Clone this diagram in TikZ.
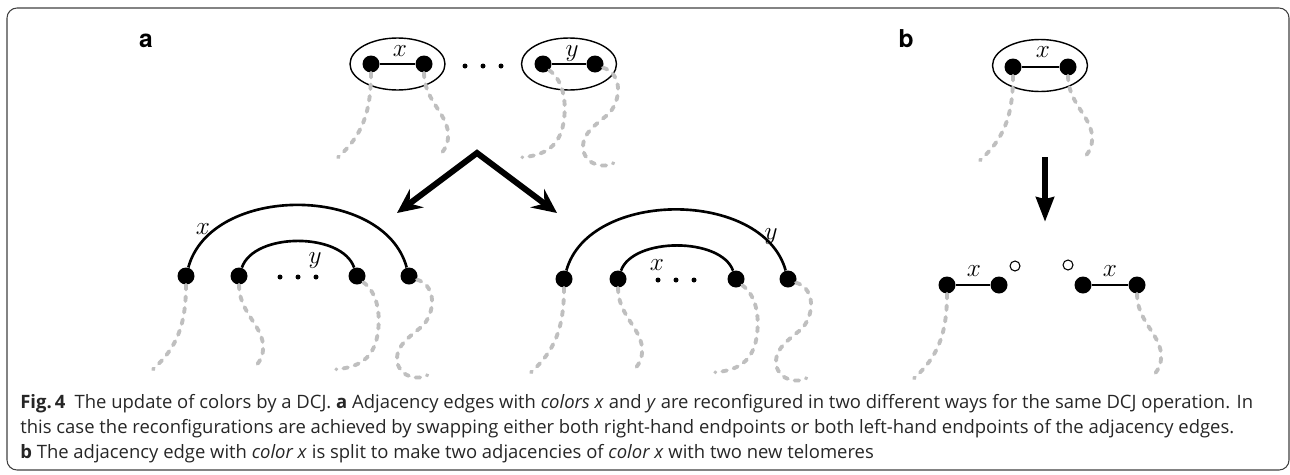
\documentclass[tikz,border=0pt]{standalone}
\usepackage{fontspec}
\setmainfont{Open Sans}
\newfontfamily\panelfont{TeX Gyre Heros}
\usetikzlibrary{arrows.meta,shapes.geometric}

\begin{document}
\begin{tikzpicture}[x=0.02cm,y=-0.02cm,
		vtx/.style={circle,fill,inner sep=0pt,minimum size=0.34cm},
		mini/.style={circle,fill,inner sep=0pt,minimum size=0.1cm},
		telo/.style={circle,draw,line width=0.6pt,inner sep=0pt,minimum size=0.2cm},
		oval/.style={ellipse,draw,line width=0.8pt,minimum width=1.9cm,minimum height=1.04cm},
		adj/.style={line width=1.5pt},
		lead/.style={draw=black!25,line width=2.2pt,line cap=round,dash pattern=on 2.6pt off 4pt},
		lbl/.style={font=\Large,inner sep=0pt,anchor=base},
		panel/.style={font=\panelfont\fontsize{14}{16}\selectfont\bfseries,inner sep=0pt,anchor=base},
		capline/.style={font=\fontsize{10.5}{13}\selectfont,text=black!85,inner sep=0pt,anchor=base west}]
		\useasboundingbox (0,0) rectangle (1290,474);
		\draw[black!75,line width=0.6pt,rounded corners=5.7pt] (7,8) rectangle (1289,470);
		
		\node[panel] (pa) at (146,47) {a};
		\node[panel] (pb) at (906,47) {b};
		
		% panel a
		\node[oval] (E1) at (397.5,64) {};
		\node[oval] (E2) at (569,64) {};
		\node[oval] (E3) at (1040,65.5) {};
		\begin{scope}[every node/.style={vtx}]
			\node (A1) at (371,64) {};
			\node (A2) at (424,64) {};
			\node (A3) at (543,64) {};
			\node (A4) at (595,64) {};
			\node (L1) at (186,276) {};
			\node (L2) at (239,276) {};
			\node (L3) at (357,276) {};
			\node (L4) at (409,276) {};
			\node (R1) at (564,279) {};
			\node (R2) at (618,279) {};
			\node (R3) at (736,279) {};
			\node (R4) at (788,279) {};
			\node (B1) at (1013,67) {};
			\node (B2) at (1068,67) {};
			\node (C1) at (947,285) {};
			\node (C2) at (999,285) {};
			\node (C3) at (1083,285) {};
			\node (C4) at (1137,285) {};
		\end{scope}
		\foreach \i/\x/\y in {1/465/66,2/483/66,3/501/66,4/280/277,5/298/277,6/316/277,7/658/280,8/676/280,9/694/280}
		\node[mini] (d\i) at (\x,\y) {};
		\node[telo] (T1) at (1015,266) {};
		\node[telo] (T2) at (1068,265) {};
		
		\begin{scope}[every edge/.style={draw,adj}]
			\path (A1) edge (A2) (A3) edge (A4) (B1) edge (B2)
			(C1) edge (C2) (C3) edge (C4);
		\end{scope}
		\draw[adj] (L1) .. controls +(25,-92) and +(-25,-92) .. (L4);
		\draw[adj] (L2) .. controls +(15,-44) and +(-15,-44) .. (L3);
		\draw[adj] (R1) .. controls +(25,-90) and +(-25,-90) .. (R4);
		\draw[adj] (R2) .. controls +(15,-42) and +(-15,-42) .. (R3);
		
		\node[lbl] (xa) at (400,56) {$x$};
		\node[lbl] (ya) at (572,56) {$y$};
		\node[lbl] (xl) at (203,234) {$x$};
		\node[lbl] (yl) at (315,263) {$y$};
		\node[lbl] (yr) at (771,239) {$y$};
		\node[lbl] (xr) at (657,270) {$x$};
		\node[lbl] (xb) at (1043,57) {$x$};
		\node[lbl] (xc) at (974,276) {$x$};
		\node[lbl] (xd) at (1110,276) {$x$};
		
		% dashed leads
		\foreach \v in {A1,L1,R1,B1,C1}
		\draw[lead] (\v.south) .. controls +(0,41.5) and +(23,-21) .. ++(-33,84.5);
		\foreach \v in {A2,L2,R2,B2,C4}
		\draw[lead] (\v.south) .. controls +(0,26.5) and +(-2,-20) .. ++(24,59.5)
		.. controls +(1,12) and +(6,-5) .. ++(-10,24);
		\foreach \v in {A3,L3,R3}
		\draw[lead] (\v.-45) .. controls +(14,10) and +(4,-22) .. ++(14,54)
		.. controls +(-4,20) and +(25,-2) .. ++(-41,33);
		\foreach \v in {A4,L4,R4}
		\draw[lead] (\v.-25) .. controls +(16.3,4.4) and +(13,-18) .. ++(7.3,44.4)
		.. controls +(-10,10) and +(-3,-18) .. ++(-27,38)
		.. controls +(3,16) and +(-8,5) .. ++(30,13);
		
		% arrows
		\coordinate (apex) at (477,153);
		\coordinate (tipL) at (397,213);
		\coordinate (tipR) at (557,213);
		\draw[line width=3.4pt,{Stealth[length=14pt,width=13pt,inset=5pt]}-{Stealth[length=14pt,width=13pt,inset=5pt]}]
		(tipL) -- (apex) -- (tipR);
		\coordinate (bs) at (1045,157);
		\coordinate (be) at (1045,222);
		\draw[line width=3.4pt,-{Stealth[length=14pt,width=10pt,inset=1pt]}] (bs) -- (be);
		
		% caption
		\node[capline] (c1) at (20,408) {\makebox[24.66cm][s]{\textbf{Fig.\,4}\enspace The update of colors by a DCJ. \textbf{a} Adjacency edges with \textit{colors x} and \textit{y} are reconfigured in two different ways for the same DCJ operation. In}};
		\node[capline] (c2) at (20,433) {this case the reconfigurations are achieved by swapping either both right-hand endpoints or both left-hand endpoints of the adjacency edges.};
		\node[capline] (c3) at (20,458) {\textbf{b} The adjacency edge with \textit{color x} is split to make two adjacencies of \textit{color x} with two new telomeres};
	\end{tikzpicture}
\end{document}
